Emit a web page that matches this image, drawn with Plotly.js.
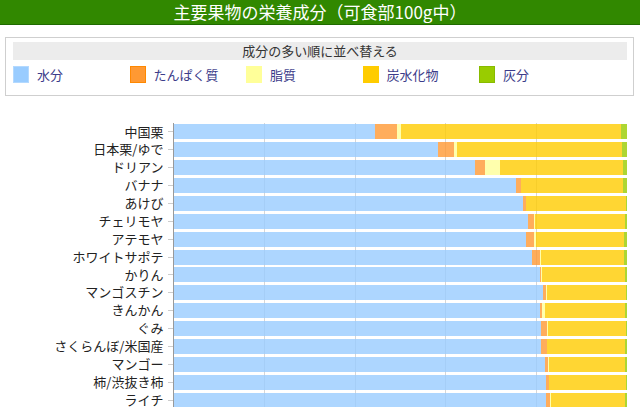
<!DOCTYPE html>
<html>
<head>
<meta charset="utf-8">
<script src="https://cdn.plot.ly/plotly-3.0.1.min.js"></script>
<style>
  html, body { margin: 0; padding: 0; width: 640px; height: 407px; overflow: hidden; background: #fff; font-family: "Noto Sans CJK JP", "Noto Sans", sans-serif; }
  #head { position: absolute; left: 0; top: 0; width: 640px; height: 24px; background: #318800; border-bottom: 1px solid #1f6a00; color: #fff; font-size: 17px; line-height: 24px; text-align: center; }
  #box { position: absolute; left: 5px; top: 37px; width: 627px; height: 57px; border: 1px solid #cfcfcf; }
  #sortbar { position: absolute; left: 7px; top: 4px; width: 614px; height: 18px; background: #ececec; color: #333; font-size: 13px; line-height: 18px; text-align: center; }
  .item { position: absolute; top: 28px; height: 17px; font-size: 13px; line-height: 17px; color: #3c3c8a; }
  .sw { position: absolute; left: 0; top: 0; width: 14px; height: 15px; border: 1px solid; }
  .lbl { position: absolute; left: 24px; top: 0; white-space: nowrap; }
  #chart { position: absolute; left: 0; top: 0; width: 640px; height: 449px; }
</style>
</head>
<body>
<div id="chart"></div>
<div id="head">主要果物の栄養成分（可食部100g中）</div>
<div id="box">
  <div id="sortbar">成分の多い順に並べ替える</div>
  <div id="legend"></div>
</div>
<script>
// Categories (top to bottom)
const fruits = ["中国栗", "日本栗/ゆで", "ドリアン", "バナナ", "あけび", "チェリモヤ", "アテモヤ", "ホワイトサポテ",
  "かりん", "マンゴスチン", "きんかん", "ぐみ", "さくらんぼ/米国産", "マンゴー", "柿/渋抜き柿", "ライチ"];
// Components (g per 100g edible portion)
const water   = [44.4, 58.4, 66.4, 75.4, 77.1, 78.1, 77.7, 79.0, 80.7, 81.5, 80.8, 81.0, 81.1, 82.0, 82.2, 82.1];
const protein = [4.9, 3.5, 2.3, 1.1, 0.5, 1.3, 1.8, 1.9, 0.4, 0.6, 0.5, 1.3, 1.2, 0.6, 0.5, 1.0];
const fat     = [0.9, 0.6, 3.3, 0.2, 0.1, 0.3, 0.4, 0.1, 0.1, 0.2, 0.7, 0.2, 0.1, 0.1, 0.1, 0.1];
const carbs   = [48.5, 36.7, 27.1, 22.5, 22.0, 19.8, 19.4, 18.4, 18.3, 17.5, 17.5, 17.2, 17.1, 16.9, 16.9, 16.4];
const ash     = [1.3, 1.0, 0.9, 0.8, 0.3, 0.5, 0.7, 0.6, 0.5, 0.2, 0.5, 0.3, 0.5, 0.4, 0.3, 0.4];

const seriesNames = ["水分", "たんぱく質", "脂質", "炭水化物", "灰分"];
const seriesColors = ["#99ccff", "#ff9933", "#ffff99", "#ffcc00", "#99cc00"];
const seriesBorders = ["#b3d9ff", "#ff8800", "#ffff99", "#ffcc00", "#88bb00"];
const seriesValues = [water, protein, fat, carbs, ash];

const traces = seriesValues.map((vals, i) => ({
  type: "bar",
  orientation: "h",
  name: seriesNames[i],
  y: fruits,
  x: vals,
  marker: { color: seriesColors[i], opacity: 0.8, line: { width: 0 } },
  hoverinfo: "name+x+y"
}));

const layout = {
  width: 640, height: 449,
  margin: { l: 174, r: 13, t: 123, b: 40, pad: 0 },
  barmode: "stack",
  barnorm: "percent",
  bargap: 0.16,
  showlegend: false,
  paper_bgcolor: "rgba(0,0,0,0)",
  plot_bgcolor: "#fff",
  font: { family: "Noto Sans CJK JP, Noto Sans, sans-serif", size: 13, color: "#222" },
  xaxis: {
    range: [0, 100], dtick: 20, showticklabels: false,
    showgrid: true, gridcolor: "#d6d6d6", gridwidth: 1,
    zeroline: false, showline: false, fixedrange: true
  },
  yaxis: {
    autorange: "reversed", type: "category",
    showgrid: false, zeroline: false,
    showline: true, linecolor: "#999", linewidth: 1,
    ticks: "outside", ticklen: 5, tickcolor: "#ccc", tickwidth: 1,
    ticklabelstandoff: 2,
    tickfont: { size: 13, color: "#222" }, fixedrange: true
  }
};

Plotly.newPlot("chart", traces, layout, { displayModeBar: false, staticPlot: true });

// Legend row (HTML control, like the original)
const leg = document.getElementById("legend");
seriesNames.forEach((n, i) => {
  const it = document.createElement("div");
  it.className = "item";
  it.style.left = (7 + i * 116.5) + "px";
  const sw = document.createElement("div");
  sw.className = "sw";
  sw.style.background = seriesColors[i];
  sw.style.borderColor = seriesBorders[i];
  const lb = document.createElement("div");
  lb.className = "lbl";
  lb.textContent = n;
  it.appendChild(sw); it.appendChild(lb);
  leg.appendChild(it);
});
</script>
</body>
</html>
